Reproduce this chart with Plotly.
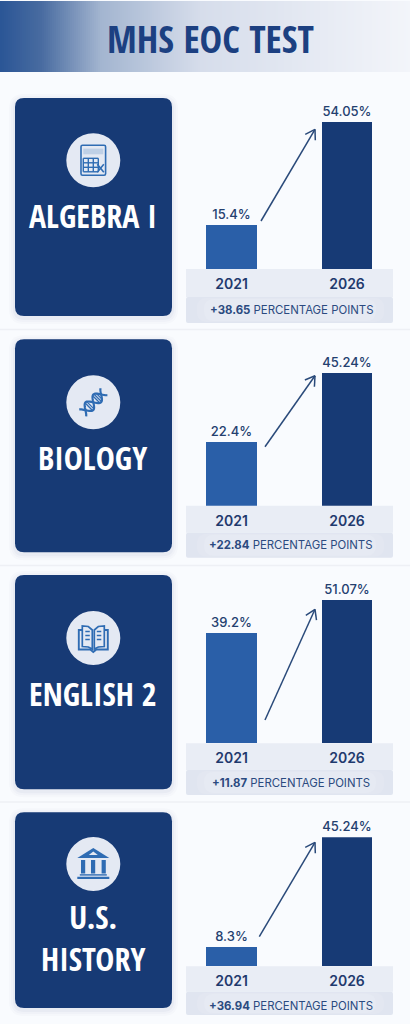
import numpy as np
import plotly.graph_objects as go

# ---------- data ----------
TITLE = "MHS EOC TEST"
SUBJECTS = ["ALGEBRA I", "BIOLOGY", "ENGLISH 2", "U.S.<br>HISTORY"]
YEARS = ["2021", "2026"]
VALUES_2021 = [15.4, 22.4, 39.2, 8.3]
VALUES_2026 = [54.05, 45.24, 51.07, 45.24]
LABELS_2021 = ["15.4%", "22.4%", "39.2%", "8.3%"]
LABELS_2026 = ["54.05%", "45.24%", "51.07%", "45.24%"]
CHANGES = ["+38.65", "+22.84", "+11.87", "+36.94"]
AXIS_FLOOR = [-1.11, 0.96, 0.0, 1.8]

# ---------- layout in page pixels ----------
W, H = 410, 1024
BAR_TOP = [122, 372.7, 600, 837.3]
BASELINE = [269, 505.7, 743.3, 966.3]
CARD_TOP = [98, 339.3, 575, 812.3]
CARD_BOT = [316, 552.3, 789.3, 1008]
ICON_CY = [160.3, 402.3, 638, 864]
NAME_CY = [215.7, 457, 693.3, 937.5]
PILL_TOP = [297, 532.7, 770, 991.7]
BAND_BOT = [323, 557.7, 795, 1015]
PILL_CY = [309.7, 545, 783.3, 1006]
ARROW_FROM = [(261, 221), (265, 446.7), (265, 720), (259.3, 936.7)]
ARROW_TO = [(315, 129.3), (315, 375.7), (315, 609.3), (315, 842.3)]
SEPARATORS = [329.5, 565.5, 802]

NAVY, BLUE, INK, ICON = "#173a75", "#2a5fa8", "#24406f", "#2f6cb3"
PAGE_BG, BAND, PILL, CIRCLE = "#f9fbfe", "#e9edf5", "#e0e5f0", "#e4e9f3"


def X(x):
    return x / W


def Y(y):
    return 1 - y / H


def pth(points, close=False):
    s = "M " + " L ".join(f"{X(a):.5f},{Y(b):.5f}" for a, b in points)
    return s + (" Z" if close else "")


shapes = []


def add_path(path, fill=None, line=None, width=0, layer="below"):
    shapes.append(dict(type="path", xref="paper", yref="paper", path=path, layer=layer,
                       fillcolor=fill or "rgba(0,0,0,0)",
                       line=dict(color=line or "rgba(0,0,0,0)", width=width)))


def add_rect(x0, y0, x1, y1, fill):
    shapes.append(dict(type="rect", xref="paper", yref="paper", x0=X(x0), x1=X(x1), y0=Y(y1), y1=Y(y0),
                       fillcolor=fill, line=dict(width=0), layer="below"))


def round_rect(x0, y0, x1, y1, r):
    p = lambda a, b: f"{X(a):.5f},{Y(b):.5f}"
    return (f"M {p(x0 + r, y0)} L {p(x1 - r, y0)} Q {p(x1, y0)} {p(x1, y0 + r)} "
            f"L {p(x1, y1 - r)} Q {p(x1, y1)} {p(x1 - r, y1)} L {p(x0 + r, y1)} "
            f"Q {p(x0, y1)} {p(x0, y1 - r)} L {p(x0, y0 + r)} Q {p(x0, y0)} {p(x0 + r, y0)} Z")


def mix(c0, c1, t):
    return "rgb(" + ",".join(str(int(round(a + (b - a) * t))) for a, b in zip(c0, c1)) + ")"


# header gradient
STOPS = [(0, (43, 86, 150)), (40, (72, 107, 160)), (100, (163, 181, 208)), (200, (214, 221, 235)), (410, (243, 245, 250))]
for xs in range(0, W, 2):
    for (a, ca), (b, cb) in zip(STOPS, STOPS[1:]):
        if a <= xs < b:
            add_rect(xs, 1, xs + 2.5, 72, mix(ca, cb, (xs - a) / (b - a)))
            break

for y in SEPARATORS:
    add_rect(0, y - 0.7, W, y + 0.7, "#eef0f5")


# ---------- icons, offsets from the circle centre ----------
def icon_calc(cx, cy):
    P = lambda pts, close=False: pth([(cx + a, cy + b) for a, b in pts], close)
    add_path(round_rect(cx - 12.3, cy - 15, cx + 12.3, cy + 15, 1.5), line=ICON, width=1.6)
    add_path(P([(-10, -11.7), (10, -11.7), (10, -6), (-10, -6)], True), fill="#bfd0e6")
    for yy in (-2, 2.5, 7, 11.5):
        add_path(P([(-10, yy), (5, yy)]), line=ICON, width=1.4)
    for xx in (-10, -5, 0, 5):
        add_path(P([(xx, -2), (xx, 11.5)]), line=ICON, width=1.4)
    add_path(P([(4, 4), (10.5, 12)]), line=ICON, width=1.6)
    add_path(P([(10.5, 4), (4, 12)]), line=ICON, width=1.6)


def icon_dna(cx, cy):
    t = np.linspace(-1, 1, 40)
    ux, uy = 0.707, -0.707
    vx, vy = 0.707, 0.707
    for sign in (1, -1):
        pts = [(cx + 15 * k * ux + sign * 5.5 * np.sin(np.pi * 1.35 * k) * vx,
                cy + 15 * k * uy + sign * 5.5 * np.sin(np.pi * 1.35 * k) * vy) for k in t]
        add_path(pth(pts), line=ICON, width=2.2)
    for k, a in ((0.28, 4.4), (0.42, 5.2), (0.56, 4.6), (-0.28, 4.4), (-0.42, 5.2)):
        cxx, cyy = cx + 15 * k * ux, cy + 15 * k * uy
        add_path(pth([(cxx + a * vx, cyy + a * vy), (cxx - a * vx, cyy - a * vy)]), line=ICON, width=1.3)


def icon_book(cx, cy):
    P = lambda pts, close=False: pth([(cx + a, cy + b) for a, b in pts], close)
    add_path(P([(-1, -8), (-5, -11.5), (-11, -12), (-11, 8.5), (-5, 9), (-1, 11)], True), line=ICON, width=1.7)
    add_path(P([(1, -8), (5, -11.5), (11, -12), (11, 8.5), (5, 9), (1, 11)], True), line=ICON, width=1.7)
    add_path(P([(-11, -8), (-14.5, -8), (-14.5, 11.5), (-3, 11.5), (0, 14), (3, 11.5), (14.5, 11.5), (14.5, -8), (11, -8)]),
             line=ICON, width=1.9)
    for yy in (-6.5, -2.5, 1.5):
        add_path(P([(-8, yy), (-3.5, yy)]), line=ICON, width=1.5)
        add_path(P([(3.5, yy), (8, yy)]), line=ICON, width=1.5)


def icon_temple(cx, cy):
    P = lambda pts: pth([(cx + a, cy + b) for a, b in pts], True)
    add_path(P([(0, -16), (16, -6), (-16, -6)]), fill=ICON)
    add_path(P([(0, -12.5), (4.5, -9), (-4.5, -9)]), fill=CIRCLE)
    for xx in (-12.3, -2.3, 8.3):
        add_path(P([(xx, -4), (xx + 4.2, -4), (xx + 4.2, 9.5), (xx, 9.5)]), fill=ICON)
    add_path(P([(-13.5, 10.2), (13.5, 10.2), (13.5, 11.6), (-13.5, 11.6)]), fill=ICON)
    add_path(P([(-16, 12.7), (16, 12.7), (16, 15), (-16, 15)]), fill=ICON)


ICONS = [icon_calc, icon_dna, icon_book, icon_temple]
CX = 93.3


def note(text, x, y, font):
    return dict(text=text, x=X(x), y=Y(y), xref="paper", yref="paper", showarrow=False,
                xanchor="center", yanchor="middle", align="center", font=font)


annotations = [note(f"<b>{TITLE}</b>", 210, 38, dict(family="Open Sans Condensed", size=38, color="#1c4081"))]
layout_axes = {}
fig = go.Figure()

for i in range(4):
    suf = "" if i == 0 else str(i + 1)
    # card + soft shadow
    for grow, alpha in ((6, 0.018), (4, 0.025), (2, 0.035)):
        add_path(round_rect(15 - grow, CARD_TOP[i] - grow + 2, 172 + grow, CARD_BOT[i] + grow + 2, 9 + grow),
                 fill=f"rgba(40,60,110,{alpha})")
    add_path(round_rect(15, CARD_TOP[i], 172, CARD_BOT[i], 9), fill=NAVY)
    shapes.append(dict(type="circle", xref="paper", yref="paper", x0=X(CX - 27), x1=X(CX + 27),
                       y0=Y(ICON_CY[i] + 27), y1=Y(ICON_CY[i] - 27), fillcolor=CIRCLE, line=dict(width=0), layer="below"))
    ICONS[i](CX, ICON_CY[i])
    # bands under the chart
    add_rect(186, BASELINE[i], 393, PILL_TOP[i], BAND)
    add_path(round_rect(186, PILL_TOP[i], 393, BAND_BOT[i], 2), fill=PILL)
    add_path(round_rect(197, PILL_TOP[i] + 1, 384, BAND_BOT[i] - 1, 10), fill="#e3e7f1")
    add_path(round_rect(204, PILL_TOP[i] + 2, 376, BAND_BOT[i] - 2, 10), fill="#e6eaf3")
    # name
    annotations.append(note(f"<b>{SUBJECTS[i]}</b>", 93, NAME_CY[i],
                            dict(family="Open Sans Condensed", size=32, color="white")))
    # change label
    annotations.append(note(f"<b>{CHANGES[i]}</b> PERCENTAGE POINTS", 291, PILL_CY[i],
                            dict(family="Inter", size=11.4, color="#2b4a80")))
    # arrow
    (x0, y0), (x1, y1) = ARROW_FROM[i], ARROW_TO[i]
    add_path(pth([(x0, y0), (x1, y1)]), line="#2a4a7a", width=1.5, layer="above")
    ang = np.arctan2(y0 - y1, x0 - x1)
    for d in (0.56, -0.56):
        add_path(pth([(x1, y1), (x1 + 11 * np.cos(ang + d), y1 + 11 * np.sin(ang + d))]), line="#2a4a7a", width=1.5, layer="above")
    # bars
    v = [VALUES_2021[i], VALUES_2026[i]]
    f = AXIS_FLOOR[i]
    fig.add_trace(go.Bar(x=YEARS, y=[a - f for a in v], base=[f, f], width=0.442,
                         marker=dict(color=[BLUE, NAVY], line=dict(width=0)),
                         text=[LABELS_2021[i], LABELS_2026[i]], textposition="outside", cliponaxis=False,
                         constraintext="none", textangle=0,
                         textfont=dict(family="Inter", size=13, color=INK, weight=500),
                         xaxis=f"x{suf}", yaxis=f"y{suf}", showlegend=False, hoverinfo="skip"))
    layout_axes[f"xaxis{suf}"] = dict(domain=[X(186), X(393)], anchor=f"y{suf}", type="category",
                                      range=[-0.396, 1.399], showgrid=False, zeroline=False, showline=False,
                                      ticks="outside", ticklen=2, tickcolor="rgba(0,0,0,0)", fixedrange=True,
                                      tickfont=dict(family="Inter", size=14, color="#1f3a6e", weight=600))
    layout_axes[f"yaxis{suf}"] = dict(domain=[Y(BASELINE[i]), Y(BAR_TOP[i])], anchor=f"x{suf}",
                                      range=[f, VALUES_2026[i]], visible=False, fixedrange=True)

fig.update_layout(width=W, height=H, margin=dict(l=0, r=0, t=0, b=0), paper_bgcolor=PAGE_BG, plot_bgcolor="rgba(0,0,0,0)",
                  shapes=shapes, annotations=annotations, bargap=0, **layout_axes)
fig.write_html("out.html", config=dict(displayModeBar=False),
               post_script="document.body.style.margin='0';document.body.style.overflow='hidden';")
